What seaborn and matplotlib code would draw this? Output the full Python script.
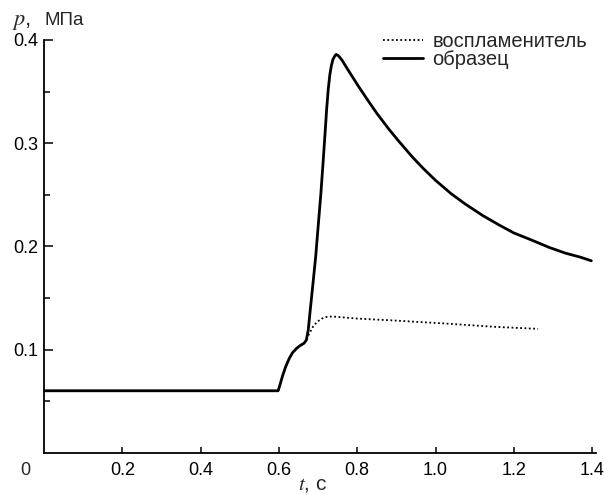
import matplotlib
matplotlib.use("Agg")
import matplotlib.pyplot as plt
import seaborn as sns
import pandas as pd
from matplotlib.ticker import FixedLocator

# ─── Data ─────────────────────────────────────────────────────────────────────
sample_t = [0.0, 0.598, 0.603, 0.609, 0.617, 0.626, 0.635, 0.645, 0.655, 0.664,
            0.670, 0.675, 0.680, 0.686, 0.694, 0.700, 0.707, 0.713, 0.718, 0.722,
            0.726, 0.730, 0.734, 0.738, 0.742, 0.746, 0.751, 0.756, 0.762, 0.770,
            0.780, 0.800, 0.821, 0.850, 0.880, 0.906, 0.940, 0.970, 1.000, 1.040,
            1.076, 1.120, 1.161, 1.200, 1.246, 1.290, 1.331, 1.370, 1.398]
sample_p = [0.060, 0.060, 0.066, 0.074, 0.083, 0.091, 0.097, 0.101, 0.104, 0.106,
            0.109, 0.119, 0.138, 0.160, 0.190, 0.218, 0.250, 0.282, 0.310, 0.333,
            0.352, 0.366, 0.375, 0.381, 0.384, 0.386, 0.385, 0.383, 0.380, 0.375,
            0.369, 0.357, 0.345, 0.329, 0.314, 0.302, 0.287, 0.275, 0.264, 0.251,
            0.241, 0.230, 0.221, 0.213, 0.206, 0.199, 0.1935, 0.1895, 0.186]

igniter_t = [0.0, 0.598, 0.603, 0.609, 0.617, 0.626, 0.635, 0.645, 0.655, 0.664,
             0.670, 0.677, 0.687, 0.698, 0.710, 0.720, 0.736, 0.800, 0.900, 1.033,
             1.150, 1.262]
igniter_p = [0.060, 0.060, 0.066, 0.074, 0.083, 0.091, 0.097, 0.101, 0.104, 0.106,
             0.109, 0.115, 0.122, 0.127, 0.130, 0.1315, 0.132, 0.130, 0.128, 0.125,
             0.122, 0.120]

labels = ["воспламенитель", "образец"]
x_ticks = [0.2, 0.4, 0.6, 0.8, 1.0, 1.2, 1.4]
x_tick_labels = ["0.2", "0.4", "0.6", "0.8", "1.0", "1.2", "1.4"]
y_ticks = [0.1, 0.2, 0.3, 0.4]
y_minor = [0.05, 0.15, 0.25, 0.35]

df_ign = pd.DataFrame({"t": igniter_t, "p": igniter_p})
df_smp = pd.DataFrame({"t": sample_t, "p": sample_p})

# ─── Style ────────────────────────────────────────────────────────────────────
sns.set_theme(style="ticks")
plt.rcParams["font.family"] = ["Liberation Sans", "DejaVu Sans"]
plt.rcParams["mathtext.fontset"] = "stix"

fig = plt.figure(figsize=(6.04, 4.95), dpi=100)
ax = fig.add_axes([0.0728, 0.0855, 0.914, 0.8337])

sns.lineplot(data=df_ign, x="t", y="p", ax=ax, color="black", lw=1.3,
             linestyle=(0, (1, 1.4)), label=labels[0], estimator=None, sort=False)
sns.lineplot(data=df_smp, x="t", y="p", ax=ax, color="black", lw=2.0,
             label=labels[1], estimator=None, sort=False)

ax.set_xlim(0, 1.41)
ax.set_ylim(0, 0.4)
ax.set_xticks(x_ticks)
ax.set_xticklabels(x_tick_labels)
ax.set_yticks(y_ticks)
ax.yaxis.set_minor_locator(FixedLocator(y_minor))
ax.tick_params(axis="both", which="both", direction="in", colors="black",
               labelsize=13)
ax.tick_params(axis="y", which="major", length=6.5, width=1.1, pad=4)
ax.tick_params(axis="y", which="minor", length=4.3, width=1.1)
ax.tick_params(axis="x", which="major", length=4.3, width=1.1, pad=7)
sns.despine(ax=ax)
for s in ("left", "bottom"):
    ax.spines[s].set_linewidth(1.3)
    ax.spines[s].set_color("black")

ax.set_xlabel("")
ax.set_ylabel("")
# shared origin label
ax.annotate("0", xy=(0, 0), xycoords="data", xytext=(-13.7, -7),
            textcoords="offset points", ha="center", va="top", fontsize=13)

# axis titles
fig.text(0.02, 0.949, "$p$,", fontsize=16, ha="left", va="baseline")
fig.text(0.074, 0.949, "МПа", fontsize=13.5, ha="left", va="baseline")
fig.text(0.518, 0.003, "$t$, с", fontsize=15, ha="center", va="bottom")

ax.legend(loc="upper left", bbox_to_anchor=(383 / 604, 1 - 32 / 495),
          bbox_transform=fig.transFigure, frameon=False, fontsize=14.5,
          handlelength=2.0, handletextpad=0.45, borderpad=0,
          borderaxespad=0, labelspacing=-0.05)

fig.savefig("out.png", dpi=100)
